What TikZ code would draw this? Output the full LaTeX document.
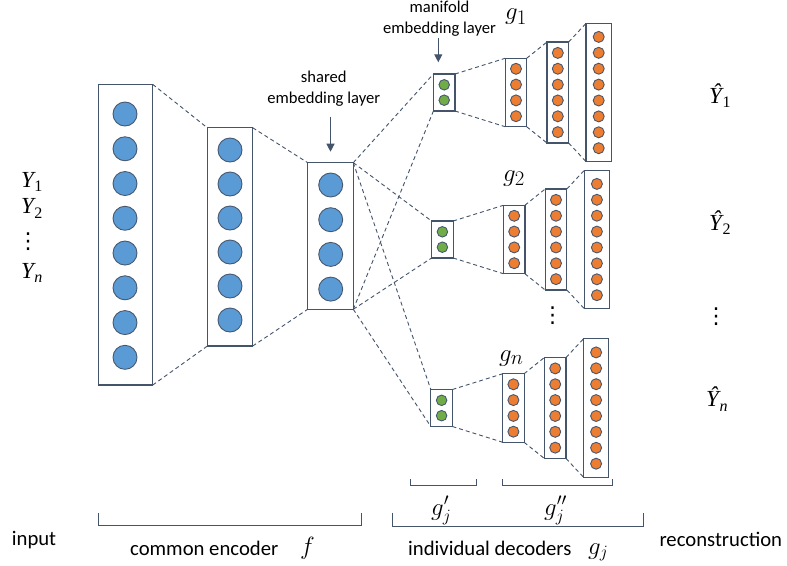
\documentclass[tikz,border=0pt]{standalone}
\usepackage{fontspec}
\setmainfont{Carlito}
\newfontfamily\dejavu{DejaVu Sans}
\newfontfamily\lsf{Liberation Serif}
\usetikzlibrary{arrows.meta,calc}
\definecolor{slate}{RGB}{68,84,106}
\definecolor{blueF}{RGB}{91,155,213}
\definecolor{orangeF}{RGB}{237,125,49}
\definecolor{greenF}{RGB}{112,173,71}
\definecolor{circE}{RGB}{70,88,112}
\tikzset{
 layer/.style={draw=slate, line width=1.2pt, fill=white, rectangle, inner sep=0pt, outer sep=0pt},
 neuron/.style={circle, draw=circE, line width=0.9pt, inner sep=0pt, outer sep=0pt},
 bneuron/.style={neuron, fill=blueF, minimum size=24pt},
 oneuron/.style={neuron, fill=orangeF, minimum size=11pt},
 gneuron/.style={neuron, fill=greenF, minimum size=10.5pt},
 link/.style={draw=slate, line width=0.9pt, dash pattern=on 4pt off 3pt},
 brace/.style={draw=slate, line width=0.9pt},
 lbl/.style={font=\fontsize{20.7}{24}\selectfont, inner sep=0pt},
 ylbl/.style={font=\lsf\fontsize{23}{26}\selectfont, inner sep=0pt},
 botmath/.style={font=\fontsize{26}{30}\selectfont, inner sep=0pt},
 glbl/.style={font=\fontsize{29}{32}\selectfont, inner sep=0pt},
 note/.style={font=\fontsize{16.6}{21}\selectfont, align=center, inner sep=0pt},
 vdotsnode/.style={font=\dejavu\fontsize{22}{24}\selectfont, inner sep=0pt},
 pointer/.style={draw=slate, line width=1.2pt, -{Triangle[length=8pt,width=8pt]}},
}
\newcommand\ylab[2]{{\itshape #1}\kern0.5pt\raisebox{-0.2em}{\fontsize{16}{16}\selectfont #2}}
\newcommand\mkdecoder[3]{%
 \node[layer, minimum width=21.6pt, minimum height=37pt] (G#1) at ({444.2+(#2)},#3) {};
 \node[gneuron] (g#1x0) at ({444.2+(#2)},{#3-7.7}) {};
 \node[gneuron] (g#1x1) at ({444.2+(#2)},{#3+7.7}) {};
 \node[layer, minimum width=21.4pt, minimum height=68.5pt] (A#1) at ({516+(#2)},#3) {};
 \foreach \k in {0,...,3} \node[oneuron] (a#1x\k) at ({516+(#2)},{#3-23.7+15.8*\k}) {};
 \node[layer, minimum width=21.7pt, minimum height=101pt] (B#1) at ({557.8+(#2)},#3) {};
 \foreach \k in {0,...,5} \node[oneuron] (b#1x\k) at ({557.8+(#2)},{#3-39.6+15.85*\k}) {};
 \node[layer, minimum width=25.3pt, minimum height=138.3pt] (C#1) at ({598.7+(#2)},#3) {};
 \foreach \k in {0,...,7} \node[oneuron] (c#1x\k) at ({598.7+(#2)},{#3-55.6+15.9*\k}) {};
 \draw[link] (E3.north east) -- (G#1.north west);
 \draw[link] (E3.south east) -- (G#1.south west);
 \draw[link] (G#1.north east) -- (A#1.north west);
 \draw[link] (G#1.south east) -- (A#1.south west);
 \draw[link] (A#1.north east) -- (B#1.north west);
 \draw[link] (A#1.south east) -- (B#1.south west);
 \draw[link] (B#1.north east) -- (C#1.north west);
 \draw[link] (B#1.south east) -- (C#1.south west);
}
\begin{document}
\begin{tikzpicture}[x=1pt,y=-1pt]
\useasboundingbox (0,0) rectangle (787,565);
\fill[white] (0,0) rectangle (787,565);
% encoder
\node[layer, minimum width=54.4pt, minimum height=300.7pt] (E1) at (125.5,234.7) {};
\foreach \k in {0,...,7} \node[bneuron] (e1x\k) at (125,{114+34.76*\k}) {};
\node[layer, minimum width=45.4pt, minimum height=218.3pt] (E2) at (230,236.9) {};
\foreach \k in {0,...,5} \node[bneuron] (e2x\k) at (230,{150+34*\k}) {};
\node[layer, minimum width=45.6pt, minimum height=146.6pt] (E3) at (330.5,236) {};
\foreach \k in {0,...,3} \node[bneuron] (e3x\k) at (330.7,{185+34.7*\k}) {};
\draw[link] (E1.north east) -- (E2.north west);
\draw[link] (E1.south east) -- (E2.south west);
\draw[link] (E2.north east) -- (E3.north west);
\draw[link] (E2.south east) -- (E3.south west);
% decoders
\mkdecoder{1}{0}{92.5}
\mkdecoder{2}{-1.8}{239.5}
\mkdecoder{n}{-2.6}{408}
% decoder labels
\node[glbl, anchor=base west] (lg1) at (505,19.5) {$g_1$};
\node[glbl, anchor=base west] (lg2) at (503,181) {$g_2$};
\node[glbl, anchor=base west] (lgn) at (499,361) {$g_n$};
\node[vdotsnode] (vdmid) at (552.7,316) {⋮};
% notes and pointers
\node[note] (nshared) at (323.7,89) {shared\\embedding layer};
\draw[pointer] ($(E3.north)+(0,-46)$) -- ($(E3.north)+(0,-11)$);
\node[note] (nmani) at (439.5,19) {manifold\\embedding layer};
\draw[pointer] ($(G1.north)+(-5.9,-35.7)$) -- ($(G1.north)+(-5.9,-11.7)$);
% input labels
\node[ylbl, anchor=base west] (y1) at (21,187) {\ylab{Y}{1}};
\node[ylbl, anchor=base west] (y2) at (21,213.5) {\ylab{Y}{2}};
\node[vdotsnode] (vdl) at (28,241.5) {⋮};
\node[ylbl, anchor=base west] (yn) at (21,278) {\ylab{Y}{\itshape n}};
% output labels
\node[ylbl, anchor=base west] (yh1) at (709,103) {\ylab{Ŷ}{1}};
\node[ylbl, anchor=base west] (yh2) at (709,230) {\ylab{Ŷ}{2}};
\node[vdotsnode] (vdr) at (716,316.5) {⋮};
\node[ylbl, anchor=base west] (yhn) at (706,406.7) {\ylab{Ŷ}{\itshape n}};
% brackets
\draw[brace] (410,479.3) -- (410,485) -- (476.7,485) -- (476.7,479.3);
\draw[brace] (502.7,479.3) -- (502.7,485) -- (612.3,485) -- (612.3,479.3);
\draw[brace] (98.7,513.3) -- (98.7,525.7) -- (361.7,525.7) -- (361.7,513.3);
\draw[brace] (392.7,512.7) -- (392.7,526.7) -- (643.3,526.7) -- (643.3,512.7);
\node[botmath, anchor=base west] (gp) at (431,515) {$g'_j$};
\node[botmath, anchor=base west] (gpp) at (544,515) {$g''_j$};
% bottom labels
\node[lbl, anchor=base west] (tin) at (11.7,545.7) {input};
\node[lbl, anchor=base west] (tenc) at (130,555) {common encoder};
\node[botmath, anchor=base west] (tf) at (300,554) {$f$};
\node[lbl, anchor=base west] (tdec) at (408,555) {individual decoders};
\node[botmath, anchor=base west] (tg) at (588,554) {$g_j$};
\node[lbl, anchor=base west] (trec) at (659.3,546.7) {reconstruction};
\end{tikzpicture}
\end{document}
